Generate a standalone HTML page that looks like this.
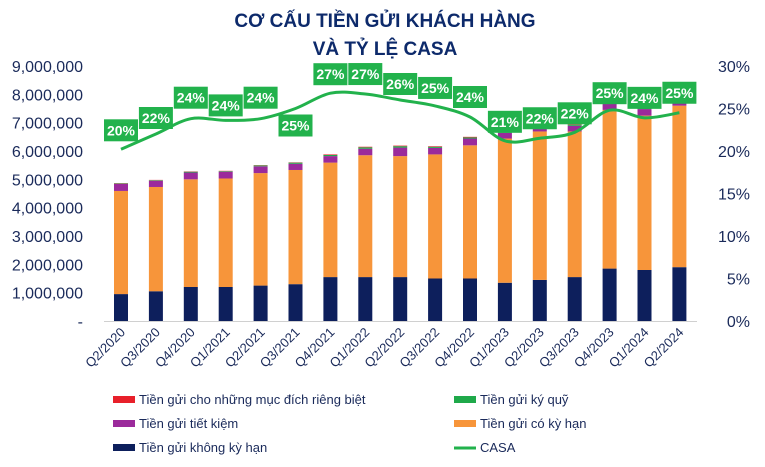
<!DOCTYPE html>
<html><head><meta charset="utf-8"><style>
body{margin:0;background:#fff;width:765px;height:462px;overflow:hidden;font-family:"Liberation Sans",sans-serif}
</style></head><body>
<svg width="765" height="462" xmlns="http://www.w3.org/2000/svg" id="chart" font-family="Liberation Sans, sans-serif">
<text x="385" y="27" text-anchor="middle" font-size="19" font-weight="bold" fill="#0d2a6b">CƠ CẤU TIỀN GỬI KHÁCH HÀNG</text>
<text x="385" y="55" text-anchor="middle" font-size="19" font-weight="bold" fill="#0d2a6b">VÀ TỶ LỆ CASA</text>
<g id="axes"></g><g id="bars"></g><g id="line"></g><g id="labels"></g>
<g font-size="13" fill="#1a2a5a">
<rect x="113" y="396" width="22" height="7" fill="#e8202a"/>
<text x="139" y="404">Tiền gửi cho những mục đích riêng biệt</text>
<rect x="454" y="396" width="22" height="7" fill="#1fa94a"/>
<text x="480" y="404">Tiền gửi ký quỹ</text>
<rect x="113" y="420" width="22" height="7" fill="#9b2a9b"/>
<text x="139" y="428">Tiền gửi tiết kiệm</text>
<rect x="454" y="420" width="22" height="7" fill="#f7953a"/>
<text x="480" y="428">Tiền gửi có kỳ hạn</text>
<rect x="113" y="444" width="22" height="7" fill="#0d1f5c"/>
<text x="139" y="452">Tiền gửi không kỳ hạn</text>
<line x1="454" y1="448" x2="476" y2="448" stroke="#22b24c" stroke-width="3"/>
<text x="480" y="452">CASA</text>
</g>
</svg>
<script>
const categories=["Q2/2020","Q3/2020","Q4/2020","Q1/2021","Q2/2021","Q3/2021","Q4/2021","Q1/2022","Q2/2022","Q3/2022","Q4/2022","Q1/2023","Q2/2023","Q3/2023","Q4/2023","Q1/2024","Q2/2024"];
const demand=[950000,1050000,1200000,1200000,1250000,1300000,1550000,1550000,1550000,1500000,1500000,1350000,1450000,1550000,1850000,1800000,1900000];
const term=[3640000,3680000,3800000,3830000,3970000,4030000,4040000,4300000,4270000,4380000,4700000,5090000,5240000,5140000,5600000,5450000,5700000];
const savings=[250000,220000,240000,240000,240000,220000,230000,230000,300000,230000,240000,200000,200000,200000,230000,230000,230000];
const escrow=[20000,20000,30000,20000,30000,40000,40000,50000,50000,40000,40000,40000,40000,40000,40000,40000,40000];
const special=[10000,10000,10000,10000,10000,10000,20000,20000,20000,20000,20000,20000,20000,20000,20000,20000,20000];
const casa=[20.2,22.0,23.8,23.6,23.8,25.0,26.8,26.7,26.0,25.3,24.0,21.2,21.5,22.2,24.8,23.9,24.5];
const casaLabels=["20%","22%","24%","24%","24%","25%","27%","27%","26%","25%","24%","21%","22%","22%","25%","24%","25%"];
const leftTicks=[0,1000000,2000000,3000000,4000000,5000000,6000000,7000000,8000000,9000000];
const rightTicks=[0,5,10,15,20,25,30];
const labelOffsets=[-19,-16,-21,-15,-21,17,-19,-20,-16,-18,-20,-19,-20,-19,-17,-20,-20];

const NS="http://www.w3.org/2000/svg";
const X0=104,STEP=34.9,BW=14,Y0=321,H=255;
const x=i=>X0+17+i*STEP;
const yL=v=>Y0-v/9000000*H;
const yR=p=>Y0-p/30*H;
function mk(tag,attrs,parent,text){const e=document.createElementNS(NS,tag);for(const k in attrs)e.setAttribute(k,attrs[k]);if(text!==undefined)e.textContent=text;parent.appendChild(e);return e;}
const axes=document.getElementById('axes'),bars=document.getElementById('bars'),line=document.getElementById('line'),labels=document.getElementById('labels');
leftTicks.forEach(v=>{const t=mk('text',{x:83,y:yL(v)+6,'text-anchor':'end','font-size':16,fill:'#1a2a5a'},axes,v===0?'-':v.toLocaleString('en-US'));

});
rightTicks.forEach(p=>{const t=mk('text',{x:750,y:yR(p)+6,'text-anchor':'end','font-size':16,fill:'#1a2a5a'},axes,p+'%');

});
const ax=mk('line',{x1:104,y1:Y0+0.5,x2:697,y2:Y0+0.5,stroke:'#d0d0d0','stroke-width':1},axes);


categories.forEach((c,i)=>{const t=mk('text',{x:0,y:0,'text-anchor':'end','font-size':13,fill:'#1a2a5a',transform:`translate(${x(i)+5},${Y0+12}) rotate(-45)`},axes,c);

});
const series=[[demand,'#0d1f5c','bar-demand'],[term,'#f7953a','bar-term'],[savings,'#9b2a9b','bar-savings'],[escrow,'#1fa94a','bar-escrow'],[special,'#e8202a','bar-special']];
categories.forEach((c,i)=>{let base=0;series.forEach(([arr,col,name])=>{const v=arr[i];const r=mk('rect',{x:x(i)-BW/2,y:yL(base+v),width:BW,height:yL(base)-yL(base+v),fill:col},bars);


base+=v;});});
const pts=casa.map((p,i)=>[x(i),yR(p)]);
let d=`M${pts[0][0]},${pts[0][1]}`;
for(let i=0;i<pts.length-1;i++){const p0=pts[i-1]||pts[i],p1=pts[i],p2=pts[i+1],p3=pts[i+2]||p2;
d+=` C${p1[0]+(p2[0]-p0[0])/6},${p1[1]+(p2[1]-p0[1])/6} ${p2[0]-(p3[0]-p1[0])/6},${p2[1]-(p3[1]-p1[1])/6} ${p2[0]},${p2[1]}`;}
const pl=mk('path',{d:d,fill:'none',stroke:'#22b24c','stroke-width':3},line);


casa.forEach((p,i)=>{const cy=yR(p)+labelOffsets[i];
const r=mk('rect',{x:x(i)-17,y:cy-11,width:34,height:22,fill:'#22b24c'},labels);


const t=mk('text',{x:x(i),y:cy+5,'text-anchor':'middle','font-size':14,'font-weight':'bold',fill:'#fff'},labels,casaLabels[i]);

});
</script>
</body></html>
